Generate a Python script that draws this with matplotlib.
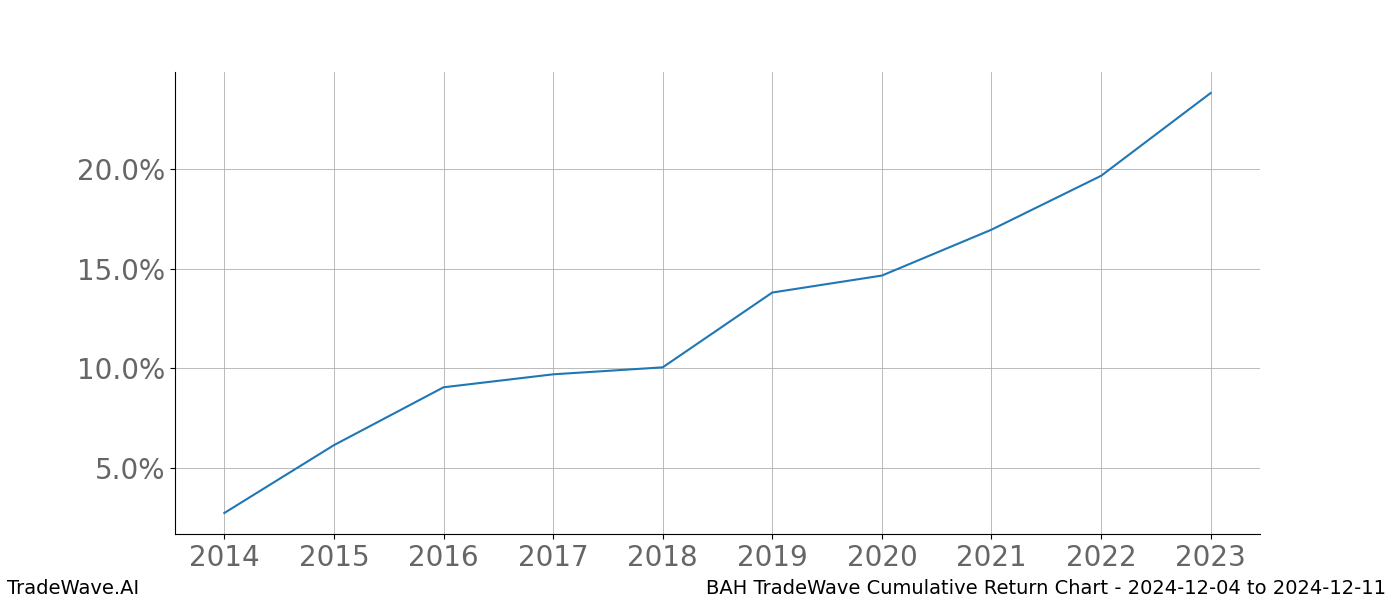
import matplotlib
matplotlib.use("Agg")
import matplotlib.pyplot as plt
from matplotlib.ticker import FuncFormatter

years = [2014, 2015, 2016, 2017, 2018, 2019, 2020, 2021, 2022, 2023]
returns = [2.75, 6.15, 9.05, 9.7, 10.05, 13.8, 14.65, 16.95, 19.65, 23.8]

fig = plt.figure(figsize=(14, 6), dpi=100)
ax = fig.add_axes([0.125, 0.11, 0.775, 0.77])
ax.plot(years, returns, color="#1f77b4", linewidth=1.5)
ax.set_xticks(years)
ax.set_yticks([5, 10, 15, 20])
ax.yaxis.set_major_formatter(FuncFormatter(lambda v, p: f"{v:.1f}%"))
ax.grid(True, color="#b0b0b0", linewidth=0.6)
ax.spines["top"].set_visible(False)
ax.spines["right"].set_visible(False)
ax.tick_params(labelsize=20, labelcolor="#666666")
fig.text(0.005, 0.01, "TradeWave.AI", fontsize=14)
fig.text(0.99, 0.01, "BAH TradeWave Cumulative Return Chart - 2024-12-04 to 2024-12-11", fontsize=14, ha="right")
fig.savefig("out.png")
